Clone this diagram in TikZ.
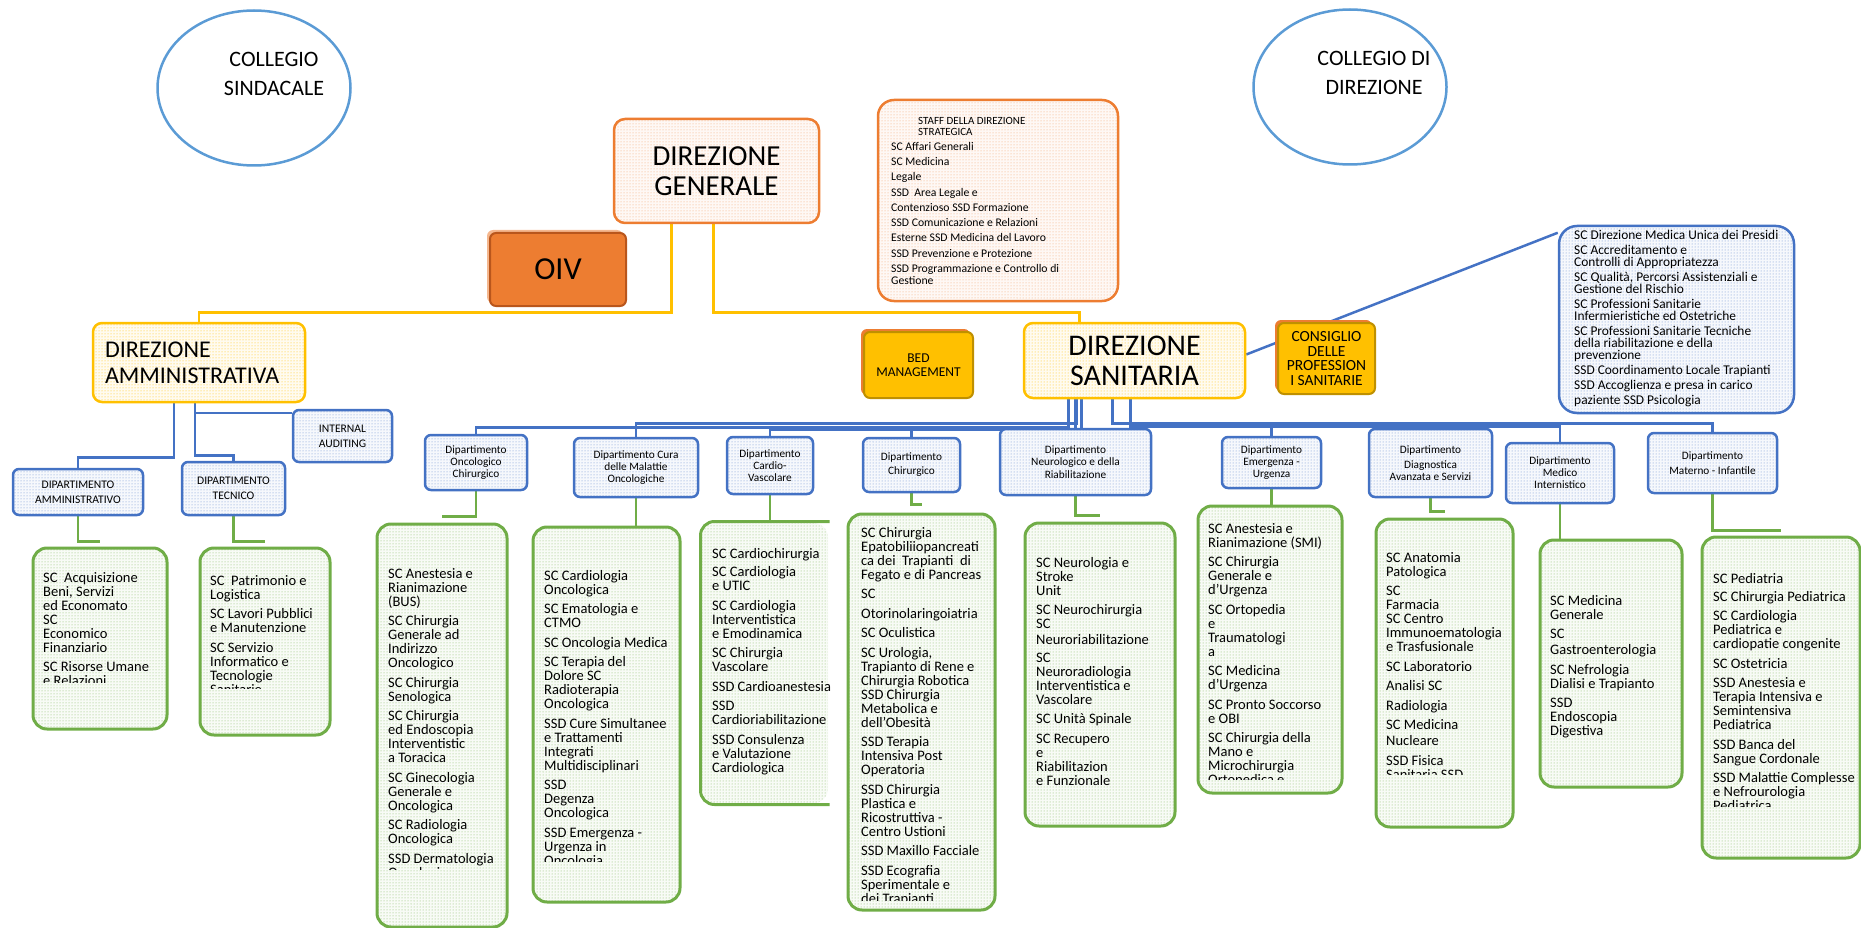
\documentclass[tikz,border=0pt]{standalone}
\usepackage{fontspec}
\setmainfont{Carlito}
\usetikzlibrary{shapes.geometric,patterns,shadows,backgrounds}

\definecolor{ablue}{HTML}{4472C4}
\definecolor{lblue}{HTML}{5B9BD5}
\definecolor{agreen}{HTML}{70AD47}
\definecolor{aorange}{HTML}{ED7D31}
\definecolor{dorange}{HTML}{B9561C}
\definecolor{ayellow}{HTML}{FFC000}
\definecolor{dyellow}{HTML}{BF9000}

%% text block whose first baseline sits at the given point
\newcommand\textlist[5][unittext]{%
  \node[#1] (#2) at (#3,#4-12) {\rule{0pt}{12pt}#5};}

\tikzset{
  collegio/.style={ellipse,draw=lblue,line width=2.5pt,minimum width=193pt,minimum height=155pt},
  collegetext/.style={align=center,inner sep=0pt,font=\fontsize{22}{29}\selectfont},
  boxsize/.style 2 args={minimum width=#1pt,minimum height=#2pt},
  dotfill/.style 2 args={preaction={fill=#2},pattern=dots,pattern color=#1},
  dirbox/.style={draw=aorange,line width=2.5pt,rounded corners=11pt,dotfill={aorange!70}{aorange!5},align=center,inner sep=2pt},
  ammbox/.style={draw=ayellow,line width=2.5pt,rounded corners=9pt,dotfill={ayellow}{ayellow!6},inner sep=2pt},
  solidbox/.style={draw=#1,line width=2pt,rounded corners=6pt,align=center,inner sep=1pt},
  depbox/.style={draw=ablue,line width=2.5pt,rounded corners=6pt,dotfill={ablue!80}{ablue!5},align=center,inner sep=1pt,
    font=\fontsize{11.3}{12}\selectfont},
  capsfont/.style={font=\fontsize{11.6}{15}\selectfont},
  unitbox/.style={draw=agreen,line width=3pt,rounded corners=14pt,dotfill={agreen!85}{agreen!5}},
  unittext/.style={anchor=north west,inner sep=0pt,align=left,font=\fontsize{14.5}{14}\selectfont},
  stafftext/.style={unittext,font=\fontsize{11.7}{11.5}\selectfont},
  bluelink/.style={draw=ablue,line width=2.5pt},
  greenlink/.style={draw=agreen,line width=2.5pt},
  yellowlink/.style={draw=ayellow,line width=2.5pt},
}

\begin{document}
\begin{tikzpicture}[x=1pt,y=-1pt]
  \useasboundingbox (0,0) rectangle (1861,928);
  %% Collegi
  \node[collegio] (colsind) at (254,88) {};
  \node[collegetext] (colsindtxt) at ([xshift=20pt,yshift=14pt]colsind.center) {COLLEGIO\\SINDACALE};
  \node[collegio] (coldir) at (1350,87) {};
  \node[collegetext] (coldirtxt) at ([xshift=24pt,yshift=14pt]coldir.center) {COLLEGIO DI\\DIREZIONE};

  %% Direzione generale, OIV, staff
  \node[dirbox,boxsize={205}{104},font=\fontsize{29}{30}\selectfont] (dirgen) at (716.5,171) {DIREZIONE\\GENERALE};
  \node[solidbox=dorange,fill=aorange,boxsize={136}{73},
    general shadow={fill=aorange!55,shadow xshift=-3pt,shadow yshift=3pt},
    font=\fontsize{32}{32}\selectfont] (oiv) at (558,269.5) {OIV};
  \node[dirbox,boxsize={240}{201},rounded corners=16pt] (staff) at (998,200.5) {};
  \textlist[stafftext,font=\fontsize{11}{11}\selectfont]{staffhead}{918}{124}{STAFF DELLA DIREZIONE\\STRATEGICA}
  \textlist[stafftext]{stafflist}{891}{150}{SC Affari Generali\\[3.8pt]SC Medicina\\[3.8pt]Legale\\[3.8pt]%
    SSD\ \ Area Legale e\\[3.8pt]Contenzioso SSD Formazione\\[3.8pt]SSD Comunicazione e Relazioni\\[3.8pt]%
    Esterne SSD Medicina del Lavoro\\[3.8pt]SSD Prevenzione e Protezione\\[3.8pt]%
    SSD Programmazione e Controllo di\\Gestione}

  %% Direzioni
  \node[ammbox,boxsize={212}{79},text width=188pt,align=left,font=\fontsize{24}{26}\selectfont] (diramm)
    at (199,362.5) {DIREZIONE\\AMMINISTRATIVA};
  \node[ammbox,boxsize={221}{75},align=center,font=\fontsize{30}{30}\selectfont] (dirsan)
    at (1134.5,360.5) {DIREZIONE\\SANITARIA};
  \node[solidbox=dyellow,fill=ayellow,boxsize={109}{66},
    general shadow={fill=aorange,shadow xshift=-3pt,shadow yshift=3pt},
    font=\fontsize{13.5}{14}\selectfont] (bedman) at (918.5,365) {BED\\MANAGEMENT};
  \node[solidbox=dyellow,fill=ayellow,boxsize={97}{71},
    general shadow={fill=aorange,shadow xshift=-3pt,shadow yshift=3pt},
    font=\fontsize{15.5}{14.5}\selectfont] (consiglio) at (1326.5,358.5) {CONSIGLIO\\DELLE\\PROFESSION\\I SANITARIE};
  \node[depbox,boxsize={235}{187},rounded corners=18pt] (sanstaff) at (1676.5,319.5) {};
  \textlist[stafftext,font=\fontsize{13.4}{12}\selectfont]{sanlist}{1574}{239}{SC Direzione Medica Unica dei Presidi\\[3pt]%
    SC Accreditamento e\\Controlli di Appropriatezza\\[3pt]%
    SC Qualità, Percorsi Assistenziali e\\Gestione del Rischio\\[3pt]%
    SC Professioni Sanitarie\\Infermieristiche ed Ostetriche\\[3pt]%
    SC Professioni Sanitarie Tecniche\\della riabilitazione e della\\prevenzione\\[3pt]%
    SSD Coordinamento Locale Trapianti\\[3pt]SSD Accoglienza e presa in carico\\[3pt]%
    paziente SSD Psicologia}

  %% Dipartimenti
  \node[depbox,capsfont,boxsize={130}{46}] (depamm) at (78,492) {DIPARTIMENTO\\AMMINISTRATIVO};
  \node[depbox,capsfont,boxsize={103}{53}] (deptec) at (233.5,488.5) {DIPARTIMENTO\\TECNICO};
  \node[depbox,capsfont,boxsize={99}{52}] (audit) at (342.5,436) {INTERNAL\\AUDITING};
  \node[depbox,boxsize={102}{55}] (depoc) at (476,462.5) {Dipartimento\\Oncologico\\Chirurgico};
  \node[depbox,boxsize={124}{59}] (depcura) at (636,467.5) {Dipartimento Cura\\delle Malattie\\Oncologiche};
  \node[depbox,boxsize={86}{57}] (depcard) at (770,465.5) {Dipartimento\\Cardio-\\Vascolare};
  \node[depbox,boxsize={97}{54}] (depchir) at (911.5,465) {Dipartimento\\[2pt]Chirurgico};
  \node[depbox,boxsize={151}{66}] (depneuro) at (1075.5,462) {Dipartimento\\Neurologico e della\\[1pt]Riabilitazione};
  \node[depbox,boxsize={99}{51}] (depemer) at (1271.5,462.5) {Dipartimento\\Emergenza -\\Urgenza};
  \node[depbox,boxsize={123}{68}] (depdiag) at (1430.5,463) {Dipartimento\\[3pt]Diagnostica\\Avanzata e Servizi};
  \node[depbox,boxsize={108}{60}] (depmed) at (1560,473) {Dipartimento\\Medico\\Internistico};
  \node[depbox,boxsize={129}{60}] (depmat) at (1712.5,463) {Dipartimento\\[3pt]Materno - Infantile};

  %% Strutture
  \node[unitbox,boxsize={134}{181}] (unitamm) at (100,638.5) {};
  \node[unitbox,boxsize={130}{187}] (unittec) at (265,641.5) {};
  \node[unitbox,boxsize={130}{403}] (unitoc) at (442,725.5) {};
  \node[unitbox,boxsize={147}{375}] (unitcura) at (606.5,714.5) {};
  \node[unitbox,draw=none,boxsize={126}{280}] (unitcard) at (765,663) {};
  \draw[greenlink,line width=3pt,rounded corners=14pt] (unitcard.north east) -- (unitcard.north west)
    -- (unitcard.south west) -- (unitcard.south east);
  \node[unitbox,boxsize={147}{396}] (unitchir) at (921.5,712) {};
  \node[unitbox,boxsize={150}{303}] (unitneuro) at (1100,674.5) {};
  \node[unitbox,boxsize={144}{287}] (unitemer) at (1270,649.5) {};
  \node[unitbox,boxsize={137}{308}] (unitdiag) at (1444.5,673) {};
  \node[unitbox,boxsize={142}{247}] (unitmed) at (1611,663.5) {};
  \node[unitbox,boxsize={158}{321}] (unitmat) at (1781,697.5) {};

  \begin{scope}
    \clip (0,0) rectangle (1861,682.5);
    \textlist{txtamm}{43}{582}{SC\ \ Acquisizione\\Beni, Servizi\\ed Economato\\SC\\Economico\\Finanziario\\[5.5pt]%
      SC Risorse Umane\\e Relazioni}
  \end{scope}
  \begin{scope}
    \clip (0,0) rectangle (1861,688);
    \textlist{txttec}{210}{585}{SC\ \ Patrimonio e\\Logistica\\[5.5pt]SC Lavori Pubblici\\e Manutenzione\\[5.5pt]%
      SC Servizio\\Informatico e\\Tecnologie\\Sanitarie}
  \end{scope}
  \begin{scope}
    \clip (0,0) rectangle (1861,869);
    \textlist{txtoc}{388}{578}{SC Anestesia e\\Rianimazione\\(BUS)\\[5.5pt]SC Chirurgia\\Generale ad\\Indirizzo\\Oncologico\\[5.5pt]%
      SC Chirurgia\\Senologica\\[5.5pt]SC Chirurgia\\ed Endoscopia\\Interventistic\\a Toracica\\[5.5pt]%
      SC Ginecologia\\Generale e\\Oncologica\\[5.5pt]SC Radiologia\\Oncologica\\[5.5pt]SSD Dermatologia\\Oncologica}
  \end{scope}
  \begin{scope}
    \clip (0,0) rectangle (1861,861.5);
    \textlist{txtcura}{544}{580}{SC Cardiologia\\Oncologica\\[5.5pt]SC Ematologia e\\CTMO\\[5.5pt]SC Oncologia Medica\\[5.5pt]%
      SC Terapia del\\Dolore SC\\Radioterapia\\Oncologica\\[5.5pt]SSD Cure Simultanee\\e Trattamenti\\Integrati\\%
      Multidisciplinari\\[5.5pt]SSD\\Degenza\\Oncologica\\[5.5pt]SSD Emergenza -\\Urgenza in\\Oncologia}
  \end{scope}
  \textlist{txtcard}{712}{558}{SC Cardiochirurgia\\[4.5pt]SC Cardiologia\\e UTIC\\[5.5pt]SC Cardiologia\\Interventistica\\%
    e Emodinamica\\[5.5pt]SC Chirurgia\\Vascolare\\[5.5pt]SSD Cardioanestesia\\[5.5pt]SSD\\Cardioriabilitazione\\[5.5pt]%
    SSD Consulenza\\e Valutazione\\Cardiologica}
  \begin{scope}
    \clip (0,0) rectangle (1861,900.5);
    \textlist{txtchir}{861}{537}{SC Chirurgia\\Epatobiliiopancreati\\ca dei\ \ Trapianti\ \ di\\Fegato e di Pancreas\\[5.5pt]%
      SC\\[5.5pt]Otorinolaringoiatria\\[5.5pt]SC Oculistica\\[5.5pt]SC Urologia,\\Trapianto di Rene e\\Chirurgia Robotica\\%
      SSD Chirurgia\\Metabolica e\\dell'Obesità\\[5.5pt]SSD Terapia\\Intensiva Post\\Operatoria\\[5.5pt]%
      SSD Chirurgia\\Plastica e\\Ricostruttiva -\\Centro Ustioni\\[5.5pt]SSD Maxillo Facciale\\[5.5pt]%
      SSD Ecografia\\Sperimentale e\\dei Trapianti}
  \end{scope}
  \textlist{txtneuro}{1036}{567}{SC Neurologia e\\Stroke\\Unit\\[5.5pt]SC Neurochirurgia\\SC\\[2pt]Neuroriabilitazione\\[3.7pt]%
    SC\\Neuroradiologia\\Interventistica e\\Vascolare\\[5.5pt]SC Unità Spinale\\[5.5pt]SC Recupero\\e\\Riabilitazion\\%
    e Funzionale}
  \begin{scope}
    \clip (0,0) rectangle (1861,779);
    \textlist{txtemer}{1208}{533}{SC Anestesia e\\Rianimazione (SMI)\\[5.5pt]SC Chirurgia\\Generale e\\d'Urgenza\\[5.5pt]%
      SC Ortopedia\\e\\Traumatologi\\a\\[5.5pt]SC Medicina\\d'Urgenza\\[5.5pt]SC Pronto Soccorso\\e OBI\\[5.5pt]%
      SC Chirurgia della\\Mano e\\Microchirurgia\\Ortopedica e}
  \end{scope}
  \begin{scope}
    \clip (0,0) rectangle (1861,774);
    \textlist{txtdiag}{1386}{562}{SC Anatomia\\Patologica\\[5.5pt]SC\\Farmacia\\SC Centro\\Immunoematologia\\e Trasfusionale\\[5.5pt]%
      SC Laboratorio\\[5.5pt]Analisi SC\\[5.5pt]Radiologia\\[5.5pt]SC Medicina\\[2pt]Nucleare\\[5.5pt]SSD Fisica\\Sanitaria SSD}
  \end{scope}
  \textlist{txtmed}{1550}{605}{SC Medicina\\Generale\\[5.5pt]SC\\[2pt]Gastroenterologia\\[5.5pt]SC Nefrologia\\%
    Dialisi e Trapianto\\[5.5pt]SSD\\Endoscopia\\Digestiva}
  \begin{scope}
    \clip (0,0) rectangle (1861,806);
    \textlist{txtmat}{1713}{583}{SC Pediatria\\[4pt]SC Chirurgia Pediatrica\\[5.5pt]SC Cardiologia\\Pediatrica e\\%
      cardiopatie congenite\\[5.5pt]SC Ostetricia\\[5.5pt]SSD Anestesia e\\Terapia Intensiva e\\Semintensiva\\Pediatrica\\[5.5pt]%
      SSD Banca del\\Sangue Cordonale\\[5.5pt]SSD Malattie Complesse\\e Nefrourologia\\Pediatrica}
  \end{scope}

  %% Links
  \begin{scope}[on background layer]
    \draw[yellowlink] ([xshift=-45pt]dirgen.south) -- ++(0,88) -| (diramm.north);
    \draw[yellowlink] ([xshift=-3pt]dirgen.south) -- ++(0,88) -| ([xshift=-55pt]dirsan.north);
    \draw[bluelink] ([xshift=-25pt]diramm.south) -- ++(0,54) -| (depamm.north);
    \draw[bluelink] ([xshift=-4pt]diramm.south) -- ++(0,52) -| (deptec.north);
    \draw[bluelink] ([xshift=-4pt]diramm.south) |- ([yshift=-4pt]audit.north west);
    \draw[bluelink] ([yshift=6pt]dirsan.east) -- ([yshift=-8pt]sanstaff.north west);
    \draw[bluelink] ([xshift=-66pt]dirsan.south) -- ++(0,28) -| (depoc.north);
    \draw[bluelink] ([xshift=-58pt]dirsan.south) -- ++(0,24) -| (depcura.north);
    \draw[bluelink] ([xshift=-53pt]dirsan.south) -- ++(0,30) -| (depcard.north);
    \draw[bluelink] ([xshift=-53pt]dirsan.south) -- ++(0,30) -| (depchir.north);
    \draw[bluelink] (dirsan.south -| depneuro.north) -- (depneuro.north);
    \draw[bluelink] ([xshift=-22pt]dirsan.south) -- ++(0,24) -| (depemer.north);
    \draw[bluelink] ([xshift=-4pt]dirsan.south) -- ++(0,24) -| (depdiag.north);
    \draw[bluelink] ([xshift=-4pt]dirsan.south) -- ++(0,27) -| (depmed.north);
    \draw[bluelink] ([xshift=-4pt]dirsan.south) -- ++(0,24) -| (depmat.north);
    \draw[greenlink] (depamm.south) |- ([yshift=5pt]unitamm.north);
    \draw[greenlink] (deptec.south) |- ([yshift=5pt]unittec.north);
    \draw[greenlink] (depoc.south) |- ([yshift=6pt]unitoc.north);
    \draw[greenlink] (depcura.south) -- (depcura.south |- unitcura.north);
    \draw[greenlink] (depcard.south) -- (depcard.south |- unitcard.north);
    \draw[greenlink] (depchir.south) |- ([yshift=8pt]unitchir.north);
    \draw[greenlink] (depneuro.south) |- ([yshift=6pt]unitneuro.north);
    \draw[greenlink] (depemer.south) -- (depemer.south |- unitemer.north);
    \draw[greenlink] (depdiag.south) |- ([yshift=6pt]unitdiag.north);
    \draw[greenlink] (depmed.south) -- (depmed.south |- unitmed.north);
    \draw[greenlink] (depmat.south) |- ([yshift=5pt]unitmat.north);
  \end{scope}
\end{tikzpicture}
\end{document}
